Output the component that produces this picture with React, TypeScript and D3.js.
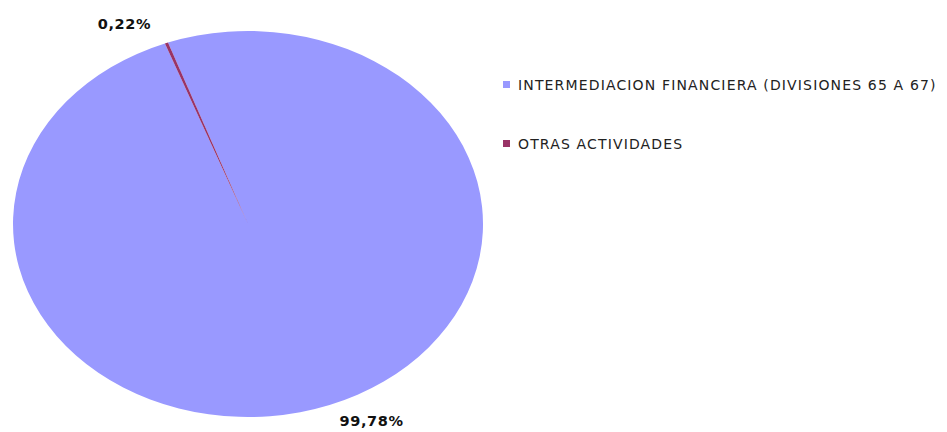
import React, { useRef, useEffect } from 'react';
import * as d3 from 'd3';

const categories = ['INTERMEDIACION FINANCIERA (DIVISIONES 65 A 67)', 'OTRAS ACTIVIDADES'];
const shares = [99.78, 0.22];
const valueLabels = ['99,78%', '0,22%'];
const colors = ['#9999FF', '#993366'];

const App: React.FC = () => {
  const svgRef = useRef<SVGSVGElement | null>(null);

  useEffect(() => {
    const svg = d3.select(svgRef.current);
    svg.selectAll('*').remove();

    const width = 947;
    const height = 432;
    const cx = 248;
    const cy = 224;
    const rx = 235;
    const ry = 193;
    const r = 100; // unit circle, stretched into an ellipse

    svg.attr('width', width).attr('height', height);
    svg.append('rect').attr('width', width).attr('height', height).attr('fill', '#fff');

    const data = categories.map((c, i) => ({ name: c, value: shares[i], label: valueLabels[i], color: colors[i] }));

    const start = (-20.7 + 0.79) * Math.PI / 180;
    const pie = d3.pie<typeof data[0]>()
      .value(d => d.value)
      .sort(null)
      .startAngle(start)
      .endAngle(start + 2 * Math.PI);

    const arcs = pie(data);
    const arc = d3.arc<d3.PieArcDatum<typeof data[0]>>().innerRadius(0).outerRadius(r);

    const g = svg.append('g')
      .attr('transform', `translate(${cx},${cy}) scale(${rx / r},${ry / r})`);

    g.selectAll('path')
      .data(arcs)
      .join('path')
      .attr('d', arc)
      .attr('fill', d => d.data.color);

    // Labels outside the ellipse
    svg.append('g')
      .selectAll('text')
      .data(arcs)
      .join('text')
      .attr('x', d => {
        const a = (d.startAngle + d.endAngle) / 2;
        return cx + rx * Math.sin(a) + Math.sign(Math.sin(a)) * 42;
      })
      .attr('y', d => {
        const a = (d.startAngle + d.endAngle) / 2;
        const up = Math.cos(a) > 0;
        return cy - ry * Math.cos(a) + (up ? -14 : 21);
      })
      .attr('text-anchor', 'middle')
      .attr('font-family', 'DejaVu Sans, Verdana, sans-serif')
      .attr('font-weight', 'bold')
      .attr('font-size', 14.5)
      .attr('letter-spacing', 0.6)
      .attr('fill', '#111')
      .text(d => d.data.label);

    // Legend
    const legend = svg.append('g').attr('transform', 'translate(503, 90)');
    data.forEach((d, i) => {
      const row = legend.append('g').attr('transform', `translate(0, ${i * 59})`);
      row.append('rect')
        .attr('x', 0)
        .attr('y', -9)
        .attr('width', 7)
        .attr('height', 7)
        .attr('fill', d.color);
      row.append('text')
        .attr('x', 15)
        .attr('y', 0)
        .attr('font-family', 'DejaVu Sans, sans-serif')
        .attr('font-size', 14)
        .attr('letter-spacing', 1.15)
        .attr('fill', '#222')
        .text(d.name);
    });
  }, []);

  return <svg ref={svgRef} style={{ position: 'absolute', left: 0, top: 0 }}></svg>;
};

export default App;
